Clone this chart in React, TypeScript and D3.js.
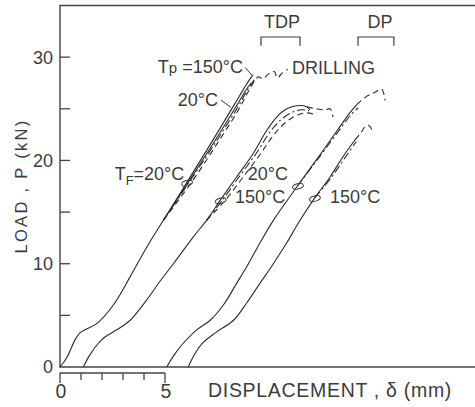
import React from 'react';
import * as d3 from 'd3';

// load-displacement curves, [displacement mm, load kN]
const tpSolid150 = [[0, 0], [0.32, 0.9], [0.71, 2.6], [0.95, 3.3], [1.19, 3.6], [1.75, 4.2], [2.54, 6.0], [3.33, 8.7], [4.13, 11.6], [4.92, 14.2], [6.05, 17.9], [7.2, 21.7], [8.3, 25.4], [8.8, 27.1], [9.05, 27.9], [9.2, 28.3]];
const tpSolid20 = [[4.92, 14.2], [6.08, 17.8], [7.25, 21.5], [8.35, 25.1], [8.85, 26.8], [9.1, 27.5]];
const tpDashDot = [[4.92, 14.2], [6.12, 17.8], [7.3, 21.4], [8.42, 25.0], [8.95, 26.9], [9.25, 27.8]];
const drilling = [[4.92, 14.2], [6.2, 17.7], [7.38, 21.3], [8.5, 24.9], [9.0, 26.8], [9.3, 27.8], [9.45, 28.1], [9.65, 27.9], [9.95, 28.4], [10.2, 28.6], [10.35, 28.0], [10.6, 28.5], [10.85, 28.8]];

const tdpSolid = [[1.11, 0], [1.43, 1.2], [1.83, 2.3], [2.14, 2.9], [2.7, 3.6], [3.33, 4.5], [4.13, 6.5], [4.76, 8.3], [5.4, 10.0], [6.35, 12.6], [6.98, 14.2], [7.65, 16.2], [8.41, 18.4], [9.21, 20.7], [9.84, 22.9], [10.32, 24.2], [10.8, 25.0], [11.27, 25.3], [11.75, 25.2], [11.9, 24.9]];
const tdpDashDot = [[6.98, 14.2], [7.75, 16.2], [8.52, 18.4], [9.35, 20.7], [9.98, 22.7], [10.5, 23.9], [11.0, 24.6], [11.5, 24.9], [11.85, 24.8]];
const tdpDashed = [[6.98, 14.2], [7.85, 16.1], [8.65, 18.2], [9.5, 20.5], [10.15, 22.4], [10.7, 23.6], [11.2, 24.3], [11.7, 24.6], [12.05, 24.5]];
const tdpTail = [[11.75, 25.2], [12.2, 25.0], [12.62, 24.9], [12.86, 25.0], [13.0, 24.2]];

const dp20Solid = [[5.08, 0], [5.48, 1.3], [5.87, 2.3], [6.51, 3.6], [7.14, 4.5], [7.78, 6.0], [8.41, 8.1], [8.89, 9.7], [9.52, 12.0], [10.16, 14.2], [11.3, 17.5], [12.4, 20.6], [13.2, 22.9], [13.8, 24.6], [14.13, 25.4]];
const dp20DashDot = [[11.3, 17.5], [12.45, 20.6], [13.25, 22.8], [13.85, 24.4], [14.2, 25.1]];
const dp20Tail = [[14.13, 25.4], [14.6, 26.2], [15.0, 26.6], [15.32, 26.9], [15.48, 25.8]];

const dp150Solid = [[6.11, 0], [6.43, 1.3], [6.83, 2.4], [7.46, 3.4], [8.25, 4.5], [8.89, 6.2], [9.52, 8.1], [10.16, 10.0], [10.79, 12.0], [11.43, 14.2], [12.14, 16.4], [12.86, 18.4], [13.49, 20.4], [14.05, 22.0]];
const dp150DashDot = [[12.14, 16.4], [12.9, 18.3], [13.55, 20.2], [14.1, 21.8]];
const dp150Tail = [[14.05, 22.0], [14.3, 22.6], [14.6, 23.4], [14.76, 23.3], [14.9, 22.6]];

const yLabelTicks = [0, 10, 20, 30];
const yAxisTicks = [5, 10, 15, 20, 25, 30];
const xRulerTicks = [0, 1, 2, 3, 4, 5];
const xLabelTicks = [0, 5];

const DASH = '6,4';
const DASHDOT = '8,3,2,3';

const curves = [
  { pts: tpSolid150, dash: null },
  { pts: tpSolid20, dash: null },
  { pts: tpDashDot, dash: DASHDOT },
  { pts: drilling, dash: DASH },
  { pts: tdpSolid, dash: null },
  { pts: tdpDashDot, dash: DASHDOT },
  { pts: tdpDashed, dash: DASH },
  { pts: tdpTail, dash: DASH },
  { pts: dp20Solid, dash: null },
  { pts: dp20DashDot, dash: DASHDOT },
  { pts: dp20Tail, dash: DASH },
  { pts: dp150Solid, dash: null },
  { pts: dp150DashDot, dash: DASHDOT },
  { pts: dp150Tail, dash: DASH },
];

const W = 475;
const H = 407;
const INK = '#3c3c3c';
const FONT = 'Liberation Sans, Arial, sans-serif';

export default function App() {
  const x = d3.scaleLinear().domain([0, 5]).range([60, 165]);
  const y = d3.scaleLinear().domain([0, 35]).range([367, 5.5]);
  const line = d3.line<number[]>()
    .x(d => x(d[0]))
    .y(d => y(d[1]))
    .curve(d3.curveCatmullRom.alpha(0.5));

  const x0 = x(0);
  const yBottom = y(0);
  const yTop = y(35);
  const rulerY = yBottom + 6;

  // loops that tie a label to its curve
  const loops = [[6.05, 17.9], [7.65, 16.2], [11.33, 17.6], [12.14, 16.4]];

  const bracket = (a: number, b: number) => {
    const top = y(31.95), leg = y(31.1);
    return `M${x(a)},${leg}V${top}H${x(b)}V${leg}`;
  };

  return (
    <svg width={W} height={H} style={{ position: 'absolute', left: 0, top: 0, background: '#fff' }}
      fontFamily={FONT}>
      {/* frame */}
      <path d={`M${W},${yTop}H${x0}V${yBottom}H${W}`} fill="none" stroke="#444" strokeWidth={1.4} />
      {yAxisTicks.map(t => (
        <line key={'yt' + t} x1={x0} x2={x0 + 10} y1={y(t)} y2={y(t)} stroke="#444" strokeWidth={1.3} />
      ))}
      {yLabelTicks.map(t => (
        <text key={'yl' + t} x={53} y={y(t)} dy="0.36em" textAnchor="end" fontSize={18} fill={INK}>{t}</text>
      ))}
      <text transform={`translate(27,186) rotate(-90)`} textAnchor="middle" fontSize={16.5}
        letterSpacing={2.3} fill={INK}>LOAD , P (kN)</text>

      {/* displacement ruler */}
      <line x1={x(0)} x2={x(5)} y1={rulerY} y2={rulerY} stroke="#444" strokeWidth={1.3} />
      {xRulerTicks.map(t => (
        <line key={'xt' + t} x1={x(t)} x2={x(t)} y1={rulerY}
          y2={rulerY + (t % 5 === 0 ? 10 : 7)} stroke="#444" strokeWidth={1.3} />
      ))}
      {xLabelTicks.map(t => (
        <text key={'xl' + t} x={x(t) + 1} y={398} textAnchor="middle" fontSize={19.5} fill={INK}>{t}</text>
      ))}
      <text x={208} y={397} fontSize={19.5} letterSpacing={0.7} fill={INK}>DISPLACEMENT , δ (mm)</text>

      {/* curves */}
      {curves.map((c, i) => (
        <path key={'c' + i} d={line(c.pts as number[][]) || ''} fill="none" stroke="#2a2a2a"
          strokeWidth={1.1} strokeDasharray={c.dash || undefined} />
      ))}

      {/* annotations */}
      <g fontSize={18} fill={INK}>
        <text x={x(8.71)} y={y(28.46)} textAnchor="end">T<tspan fontSize={15}>p</tspan> =150°C</text>
        <line x1={x(8.82)} y1={y(29.0)} x2={x(9.14)} y2={y(28.25)} stroke={INK} strokeWidth={1} />
        <text x={x(7.52)} y={y(25.27)} textAnchor="end">20°C</text>
        <line x1={x(7.66)} y1={y(25.85)} x2={x(8.14)} y2={y(25.15)} stroke={INK} strokeWidth={1} />
        <text x={x(11.05)} y={y(28.36)}>DRILLING</text>
        <text x={x(5.92)} y={y(18.1)} textAnchor="end">T<tspan fontSize={13} dy={5}>F</tspan><tspan dy={-5}>=20°C</tspan></text>
        <text x={x(8.33)} y={y(15.88)}>150°C</text>
        <text x={x(10.86)} y={y(18.1)} textAnchor="end">20°C</text>
        <text x={x(12.86)} y={y(15.88)}>150°C</text>

        <text x={x(10.57)} y={28} textAnchor="middle">TDP</text>
        <text x={x(15.24)} y={28} textAnchor="middle">DP</text>
      </g>
      <path d={bracket(9.57, 11.43)} fill="none" stroke={INK} strokeWidth={1.2} />
      <path d={bracket(14.19, 15.9)} fill="none" stroke={INK} strokeWidth={1.2} />
      {loops.map((p, i) => (
        <ellipse key={'lp' + i} cx={x(p[0])} cy={y(p[1]) + 1} rx={5.5} ry={2.6}
          transform={`rotate(-15 ${x(p[0])} ${y(p[1]) + 1})`}
          fill="none" stroke={INK} strokeWidth={1} />
      ))}
    </svg>
  );
}
